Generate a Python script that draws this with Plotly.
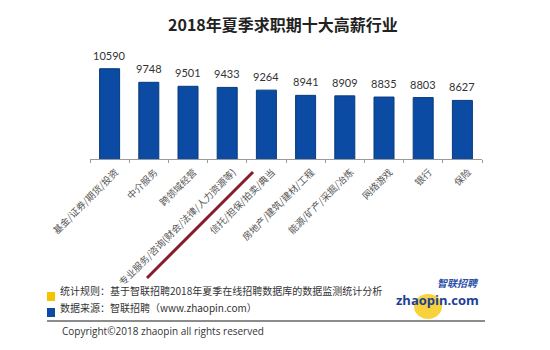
import plotly.graph_objects as go

categories = ["基金/证券/期货/投资", "中介服务", "跨领域经营",
              "专业服务/咨询(财会/法律/人力资源等)", "信托/担保/拍卖/典当",
              "房地产/建筑/建材/工程", "能源/矿产/采掘/冶炼", "网络游戏", "银行", "保险"]
salaries = [10590, 9748, 9501, 9433, 9264, 8941, 8909, 8835, 8803, 8627]

W, H = 550, 350
L, R, T, B = 90, 482, 40, 159  # plot area in pixels


def px(x):
    return (x - L) / (R - L)


def py(y):
    return (B - y) / (B - T)


CJK = "Noto Sans CJK SC"

fig = go.Figure()
fig.add_trace(go.Bar(
    x=categories, y=salaries,
    marker=dict(color="#0b4ba3", line=dict(color="#083a7c", width=1)),
    hoverinfo="x+y",
))

annotations = []
for c, v in zip(categories, salaries):
    annotations.append(dict(x=c, y=v, xref="x", yref="y", text=str(v), showarrow=False,
                            yanchor="bottom", yshift=5,
                            font=dict(family="Lato", size=11, color="#333333")))

annotations += [
    dict(x=px(283), y=py(24), xref="paper", yref="paper", text="<b>2018年夏季求职期十大高薪行业</b>",
         showarrow=False, xanchor="center", yanchor="middle",
         font=dict(family=CJK, size=16, color="#222222")),
    dict(x=px(58), y=py(290), xref="paper", yref="paper",
         text="统计规则：基于智联招聘2018年夏季在线招聘数据库的数据监测统计分析",
         showarrow=False, xanchor="left", yanchor="middle",
         font=dict(family=CJK, size=10, color="#333333")),
    dict(x=px(58), y=py(307), xref="paper", yref="paper",
         text="数据来源：智联招聘（www.zhaopin.com）",
         showarrow=False, xanchor="left", yanchor="middle",
         font=dict(family=CJK, size=10, color="#333333")),
    dict(x=px(60), y=py(331), xref="paper", yref="paper",
         text="Copyright©2018 zhaopin all rights reserved",
         showarrow=False, xanchor="left", yanchor="middle",
         font=dict(family="Open Sans", size=10, color="#333333")),
    dict(x=px(481), y=py(282), xref="paper", yref="paper",
         text="<b><i>智联招聘</i></b>",
         showarrow=False, xanchor="right", yanchor="middle",
         font=dict(family=CJK, size=10, color="#2b4fa8")),
    dict(x=px(481), y=py(300), xref="paper", yref="paper",
         text="<b>zhaopin.com</b>",
         showarrow=False, xanchor="right", yanchor="middle",
         font=dict(family="Open Sans", size=13, color="#1d3f95")),
]

shapes = [
    # red underline
    dict(type="line", xref="paper", yref="paper", x0=px(147), y0=py(278), x1=px(253), y1=py(172),
         line=dict(color="#8a1b2c", width=3)),
    # legend squares
    dict(type="rect", xref="paper", yref="paper", x0=px(47), y0=py(292), x1=px(55), y1=py(301),
         fillcolor="#f5c400", line=dict(width=0)),
    dict(type="rect", xref="paper", yref="paper", x0=px(47), y0=py(308), x1=px(55), y1=py(317),
         fillcolor="#0b4ba3", line=dict(width=0)),
    # separator
    dict(type="line", xref="paper", yref="paper", x0=px(47), y0=py(321), x1=px(485), y1=py(321),
         line=dict(color="#8c8c8c", width=2)),
    # logo circle
    dict(type="circle", xref="paper", yref="paper", layer="below",
         x0=px(414), y0=py(294), x1=px(442), y1=py(319),
         fillcolor="#f7d23a", line=dict(width=0)),
]

fig.update_layout(
    width=W, height=H,
    margin=dict(l=L, r=W - R, t=T, b=H - B, pad=0),
    paper_bgcolor="white", plot_bgcolor="white",
    showlegend=False,
    bargap=0.49,
    xaxis=dict(showline=True, linecolor="#9a9a9a", linewidth=1,
               ticks="outside", ticklen=3, tickcolor="#9a9a9a", tickson="boundaries",
               tickangle=-45, tickfont=dict(family=CJK, size=9.5, color="#555555"),
               ticklabelshift=6, ticklabelstandoff=3,
               showgrid=False, fixedrange=True),
    yaxis=dict(range=[5000, 5000 + (B - T) / 0.01615], visible=False, fixedrange=True),
    annotations=annotations,
    shapes=shapes,
)

fig.write_html("out.html")
